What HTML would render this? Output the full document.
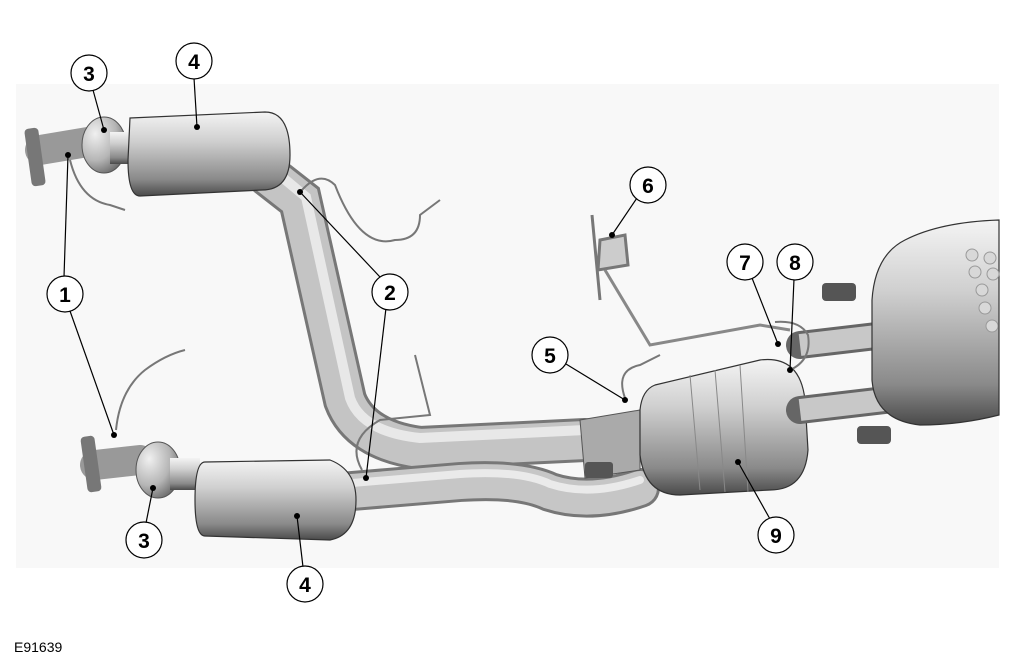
<!DOCTYPE html>
<html><head><meta charset="utf-8"><style>
html,body{margin:0;padding:0;background:#fff;}
svg{display:block;}
text{font-family:"Liberation Sans",sans-serif;}
.n{font-family:"Liberation Sans Narrow","Liberation Sans",sans-serif;}
</style></head><body>
<svg width="1011" height="665" viewBox="0 0 1011 665" xmlns="http://www.w3.org/2000/svg">
<defs>
<linearGradient id="gv" x1="0" y1="0" x2="0" y2="1">
<stop offset="0" stop-color="#f4f4f4"/><stop offset="0.35" stop-color="#cfcfcf"/><stop offset="0.8" stop-color="#8a8a8a"/><stop offset="1" stop-color="#4a4a4a"/></linearGradient>
<radialGradient id="gr" cx="0.3" cy="0.3" r="0.8">
<stop offset="0" stop-color="#f0f0f0"/><stop offset="0.6" stop-color="#b5b5b5"/><stop offset="1" stop-color="#666"/></radialGradient>
</defs>
<rect x="0" y="0" width="1011" height="665" fill="#fff"/>
<rect x="16" y="84" width="983" height="484" fill="#f8f8f8"/>

<path d="M268 175 L300 200 L345 400 Q360 440 420 448 L585 440" fill="none" stroke="#777" stroke-width="44" stroke-linecap="round"/>
<path d="M268 175 L300 200 L345 400 Q360 440 420 448 L585 440" fill="none" stroke="#c4c4c4" stroke-width="38" stroke-linecap="round"/>
<path d="M276 172 L306 197 L350 398 Q362 432 420 438 L585 430" fill="none" stroke="#e8e8e8" stroke-width="10" stroke-linecap="round"/>
<path d="M340 492 L460 482 Q520 478 550 492 Q590 505 640 488" fill="none" stroke="#777" stroke-width="40" stroke-linecap="round"/>
<path d="M340 492 L460 482 Q520 478 550 492 Q590 505 640 488" fill="none" stroke="#c6c6c6" stroke-width="34" stroke-linecap="round"/>
<path d="M340 484 L460 474 Q520 470 550 484 Q590 497 640 480" fill="none" stroke="#eaeaea" stroke-width="8" stroke-linecap="round"/>

<path d="M40 150 L100 140" stroke="#999" stroke-width="30" stroke-linecap="round"/>
<rect x="28" y="128" width="14" height="58" rx="4" fill="#777" transform="rotate(-8 35 157)"/>
<ellipse cx="104" cy="145" rx="22" ry="28" fill="url(#gr)" stroke="#555"/>
<rect x="110" y="132" width="26" height="32" fill="url(#gv)"/>
<path d="M130 118 L265 112 Q290 112 290 155 Q290 190 262 190 L140 196 Q128 196 128 160 Z" fill="url(#gv)" stroke="#333" stroke-width="1.2"/>
<path d="M95 465 L140 460" stroke="#999" stroke-width="30" stroke-linecap="round"/>
<rect x="84" y="436" width="14" height="56" rx="4" fill="#777" transform="rotate(-8 91 464)"/>
<ellipse cx="158" cy="470" rx="22" ry="28" fill="url(#gr)" stroke="#555"/>
<rect x="170" y="458" width="30" height="32" fill="url(#gv)"/>
<path d="M205 462 L330 460 Q356 470 356 500 Q356 535 330 540 L205 536 Q195 536 195 500 Q195 462 205 462 Z" fill="url(#gv)" stroke="#333" stroke-width="1.2"/>

<path d="M580 420 L640 410 L640 470 L585 478 Z" fill="#aaa" stroke="#555"/>
<path d="M655 385 L760 360 Q800 355 805 400 L808 450 Q805 490 770 490 L680 495 Q645 495 640 455 L640 410 Q642 390 655 385 Z" fill="url(#gv)" stroke="#333" stroke-width="1.2"/>
<path d="M690 375 L700 490 M715 370 L725 492 M740 365 L748 492" stroke="#888" fill="none"/>
<path d="M800 345 L885 335" stroke="#666" stroke-width="28" stroke-linecap="round"/>
<path d="M800 345 L885 335" stroke="#c8c8c8" stroke-width="22"/>
<path d="M800 410 L885 400" stroke="#666" stroke-width="28" stroke-linecap="round"/>
<path d="M800 410 L885 400" stroke="#c8c8c8" stroke-width="22"/>
<path d="M905 240 Q940 222 999 220 L999 415 Q960 425 920 425 Q875 420 872 380 L872 300 Q875 255 905 240 Z" fill="url(#gv)" stroke="#333" stroke-width="1.2"/>
<g fill="#d8d8d8" stroke="#999"><circle cx="972" cy="255" r="6"/><circle cx="990" cy="258" r="6"/><circle cx="975" cy="272" r="6"/><circle cx="993" cy="274" r="6"/><circle cx="982" cy="290" r="6"/><circle cx="985" cy="308" r="6"/><circle cx="992" cy="326" r="6"/></g>
<rect x="822" y="283" width="34" height="18" rx="4" fill="#555"/>
<rect x="857" y="426" width="34" height="18" rx="4" fill="#555"/>
<rect x="585" y="462" width="28" height="16" rx="3" fill="#555"/>
<path d="M592 215 L600 300 M600 240 L625 235 L628 265 L598 270 Z" stroke="#777" stroke-width="3" fill="#ccc"/>
<path d="M605 270 L650 345 L760 325 L790 330" stroke="#888" stroke-width="3" fill="none"/>
<path d="M70 160 Q80 200 110 205 L125 210" stroke="#777" stroke-width="2" fill="none"/>
<path d="M302 190 Q320 170 335 185 Q360 250 395 240 Q420 240 420 215 L440 200" stroke="#777" stroke-width="2" fill="none"/>
<path d="M116 430 Q120 390 145 370 Q165 355 185 350" stroke="#777" stroke-width="2" fill="none"/>
<path d="M362 470 Q345 440 380 420 L430 415 L415 355" stroke="#777" stroke-width="2" fill="none"/>
<path d="M625 398 Q615 370 640 365 L660 355" stroke="#777" stroke-width="2" fill="none"/>
<path d="M790 370 Q812 360 808 335 Q800 320 775 322" stroke="#777" stroke-width="2" fill="none"/>

<g stroke="#000" stroke-width="1.2" fill="none">
<line x1="93" y1="90" x2="104" y2="130"/>
<line x1="194" y1="78" x2="197" y2="127"/>
<line x1="64" y1="277" x2="68" y2="155"/>
<line x1="70" y1="311" x2="114" y2="435"/>
<line x1="380" y1="277" x2="300" y2="192"/>
<line x1="386" y1="308" x2="366" y2="478"/>
<line x1="637" y1="198" x2="612" y2="235"/>
<line x1="752" y1="278" x2="778" y2="344"/>
<line x1="794" y1="279" x2="790" y2="370"/>
<line x1="566" y1="364" x2="625" y2="400"/>
<line x1="146" y1="523" x2="153" y2="488"/>
<line x1="303" y1="567" x2="297" y2="516"/>
<line x1="770" y1="519" x2="738" y2="462"/>
</g>
<g fill="#000">
<circle cx="104" cy="130" r="3"/><circle cx="197" cy="127" r="3"/><circle cx="68" cy="155" r="3"/><circle cx="114" cy="435" r="3"/>
<circle cx="300" cy="192" r="3"/><circle cx="366" cy="478" r="3"/><circle cx="612" cy="235" r="3"/><circle cx="778" cy="344" r="3"/>
<circle cx="790" cy="370" r="3"/><circle cx="625" cy="400" r="3"/><circle cx="153" cy="488" r="3"/><circle cx="297" cy="516" r="3"/><circle cx="738" cy="462" r="3"/>
</g>
<g fill="#fff" stroke="#000" stroke-width="1.2">
<circle cx="89" cy="73" r="18"/><circle cx="194" cy="61" r="18"/><circle cx="65" cy="294" r="18"/><circle cx="390" cy="292" r="18"/>
<circle cx="648" cy="185" r="18"/><circle cx="745" cy="262" r="18"/><circle cx="795" cy="262" r="18"/><circle cx="550" cy="355" r="18"/>
<circle cx="144" cy="540" r="18"/><circle cx="305" cy="584" r="18"/><circle cx="776" cy="535" r="18"/>
</g>
<g class="n" font-size="21" font-weight="bold" text-anchor="middle" fill="#000">
<text x="89" y="81">3</text><text x="194" y="69">4</text><text x="65" y="302">1</text><text x="390" y="300">2</text>
<text x="648" y="193">6</text><text x="745" y="270">7</text><text x="795" y="270">8</text><text x="550" y="363">5</text>
<text x="144" y="548">3</text><text x="305" y="592">4</text><text x="776" y="543">9</text>
</g>
<text x="14" y="652" font-size="14" fill="#000">E91639</text>
</svg>
</body></html>
